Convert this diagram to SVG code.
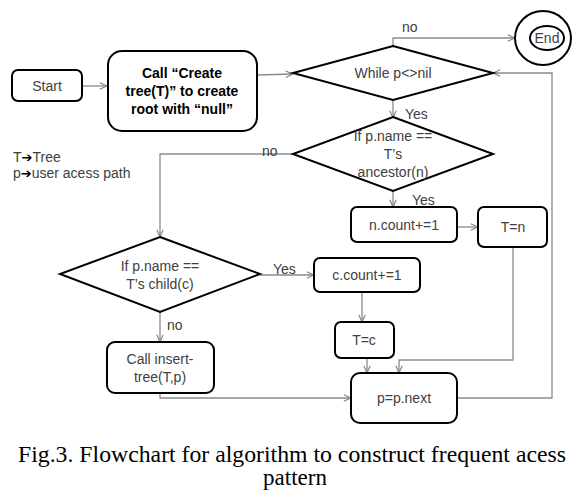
<svg xmlns="http://www.w3.org/2000/svg" width="577" height="492" viewBox="0 0 577 492">
<defs>
<marker id="arr" viewBox="0 0 10 10" refX="10" refY="5" markerWidth="8" markerHeight="8" markerUnits="userSpaceOnUse" orient="auto">
<path d="M1,1 L10,5 L1,9" fill="none" stroke="#808080" stroke-width="1.4"/>
</marker>
</defs>
<style>
.box{fill:#fff;stroke:#000;stroke-width:2}
.con{fill:none;stroke:#8a8a8a;stroke-width:1.3}
.t{font-family:"Liberation Sans",Arial,sans-serif;font-size:14px;fill:#404040;text-anchor:middle}
.b{font-family:"Liberation Sans",Arial,sans-serif;font-size:14px;font-weight:bold;fill:#000;text-anchor:middle}
.l{font-family:"Liberation Sans",Arial,sans-serif;font-size:14px;fill:#404040}
.ar{font-family:"DejaVu Sans",sans-serif;font-size:13px;fill:#000}
.cap{font-family:"Liberation Serif","Times New Roman",serif;font-size:23px;fill:#000}
</style>
<rect width="577" height="492" fill="#fff"/>
<g id="connectors">
<path class="con" d="M82,86 L107,86" marker-end="url(#arr)"/>
<path class="con" d="M257,75 L293,74" marker-end="url(#arr)"/>
<path class="con" d="M393,46 L393,38 L515,38" marker-end="url(#arr)"/>
<path class="con" d="M393,100 L393,118" marker-end="url(#arr)"/>
<path class="con" d="M293,154 L160,154 L160,237" marker-end="url(#arr)"/>
<path class="con" d="M393,191 L393,207" marker-end="url(#arr)"/>
<path class="con" d="M457,227 L478,227" marker-end="url(#arr)"/>
<path class="con" d="M513,247 L513,360 L399,360 L399,373" marker-end="url(#arr)"/>
<path class="con" d="M260,275 L314,275" marker-end="url(#arr)"/>
<path class="con" d="M362,292 L362,322" marker-end="url(#arr)"/>
<path class="con" d="M367,358 L367,373" marker-end="url(#arr)"/>
<path class="con" d="M160,312 L160,342" marker-end="url(#arr)"/>
<path class="con" d="M160,393 L160,398 L351,398" marker-end="url(#arr)"/>
<path class="con" d="M457,398 L552,398 L552,73 L493,73" marker-end="url(#arr)"/>
<text class="l" x="402" y="32">no</text>
<text class="l" x="405" y="119">Yes</text>
<text class="l" x="262" y="156">no</text>
<text class="l" x="412" y="205">Yes</text>
<text class="l" x="273" y="274">Yes</text>
<text class="l" x="167" y="330">no</text>
</g>
<g id="start">
<rect class="box" x="12" y="70" width="70" height="31" rx="6"/>
<text class="t" x="47" y="91">Start</text>
</g>
<g id="create">
<rect class="box" x="108" y="51" width="149" height="80" rx="14"/>
<text class="b" x="182" y="78">Call “Create</text>
<text class="b" x="182" y="96">tree(T)” to create</text>
<text class="b" x="182" y="114">root with “null”</text>
</g>
<g id="while">
<polygon class="box" points="393,46 493,73 393,100 293,73"/>
<text class="t" x="393" y="78">While p&lt;&gt;nil</text>
</g>
<g id="end">
<ellipse class="box" cx="543" cy="38" rx="28" ry="27"/>
<ellipse class="box" cx="547" cy="38" rx="17" ry="12"/>
<text class="t" x="547" y="43">End</text>
</g>
<g id="ancestor">
<polygon class="box" points="393,117 493,154 393,191 293,154"/>
<text class="t" x="393" y="141">If p.name ==</text>
<text class="t" x="393" y="159">T’s</text>
<text class="t" x="393" y="177">ancestor(n)</text>
</g>
<g id="ncount">
<rect class="box" x="351" y="207" width="106" height="35" rx="6"/>
<text class="t" x="404" y="230">n.count+=1</text>
</g>
<g id="tn">
<rect class="box" x="478" y="207" width="69" height="40" rx="6"/>
<text class="t" x="513" y="232">T=n</text>
</g>
<g id="child">
<polygon class="box" points="160,237 260,274 160,312 60,274"/>
<text class="t" x="160" y="271">If p.name ==</text>
<text class="t" x="160" y="289">T’s child(c)</text>
</g>
<g id="ccount">
<rect class="box" x="314" y="258" width="106" height="34" rx="6"/>
<text class="t" x="367" y="280">c.count+=1</text>
</g>
<g id="tc">
<rect class="box" x="335" y="322" width="59" height="36" rx="6"/>
<text class="t" x="364" y="345">T=c</text>
</g>
<g id="insert">
<rect class="box" x="107" y="342" width="107" height="51" rx="8"/>
<text class="t" x="160" y="364">Call insert-</text>
<text class="t" x="160" y="382">tree(T,p)</text>
</g>
<g id="next">
<rect class="box" x="351" y="373" width="106" height="50" rx="9"/>
<text class="t" x="404" y="403">p=p.next</text>
</g>
<g id="legend">
<text class="l" x="13" y="162">T<tspan class="ar">➔</tspan>Tree</text>
<text class="l" x="13" y="178">p<tspan class="ar">➔</tspan>user acess path</text>
</g>
<g id="caption">
<text class="cap" x="18" y="462" textLength="548" lengthAdjust="spacingAndGlyphs">Fig.3. Flowchart for algorithm to construct frequent acess</text>
<text class="cap" x="295" y="485" text-anchor="middle">pattern</text>
</g>
</svg>
